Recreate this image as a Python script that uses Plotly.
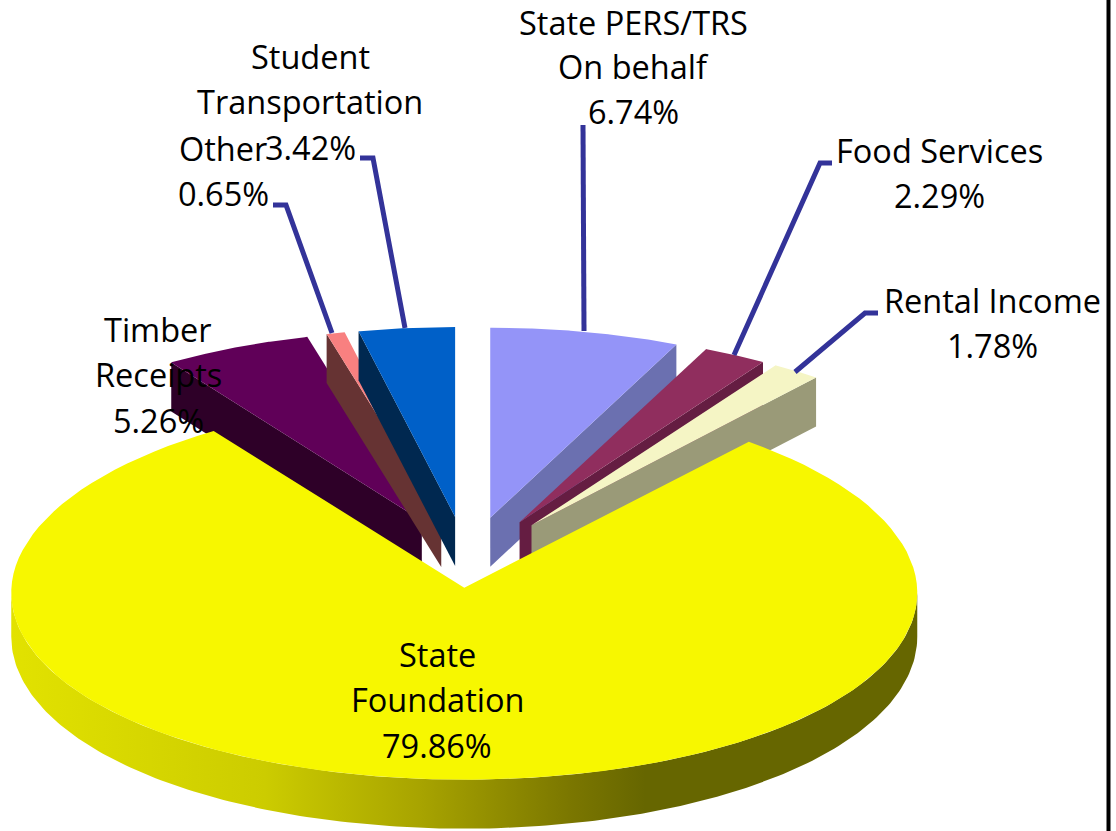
import numpy as np
import plotly.graph_objects as go

# ---- data, clockwise from 12 o'clock ----
slice_names = ["State PERS/TRS On behalf", "Food Services", "Rental Income", "State Foundation",
               "Timber Receipts", "Other", "Student Transportation"]
slice_values = [6.74, 2.29, 1.78, 79.86, 5.26, 0.65, 3.42]
slice_tops = ["#9494f8", "#902e5e", "#f5f5c5", "#f7f700", "#600058", "#f88080", "#0060c8"]
slice_walls = ["#6b70b0", "#651d42", "#9a9a78", None, "#2e0028", "#663333", "#002850"]
slice_pull = [0.244, 0.244, 0.244, 0.13, 0.244, 0.244, 0.244]
wall_side = ["end", "end", "end", None, "start", "start", "start"]
order = [0, 1, 2, 4, 5, 6, 3]
label_lines = [["State PERS/TRS", "On behalf"], ["Food Services"], ["Rental Income"], ["State", "Foundation"],
               ["Timber", "Receipts"], ["Other"], ["Student", "Transportation"]]
label_x = [633, 939, 992, 437, 158, 223, 310]
label_y = [22, 150, 300, 654, 329, 148, 56]
label_step = [44.5, 45.7, 45.7, 45.7, 45.7, 45.7, 45.7]
leader_x = [[584, 583], [734, 820, 832], [795, 865, 878], None, None, [332, 286, 273], [405, 373, 360]]
leader_y = [[331, 125], [355, 163, 163], [372, 313, 313], None, None, [333, 205, 205], [328, 158, 158]]

CX, CY, RX, RY, DEPTH = 467, 563, 453, 190, 49
FONT = dict(family="Open Sans, Noto Sans, sans-serif", size=32.5, color="#000000")

fig = go.Figure()


def add_poly(xs, ys, color=None, gradient=None):
    kw = dict(fillgradient=gradient) if gradient else dict(fillcolor=color)
    fig.add_trace(go.Scatter(x=xs, y=ys, mode="lines", fill="toself", line=dict(width=0, color="rgba(0,0,0,0)"),
                             hoverinfo="skip", showlegend=False, **kw))


cum = np.cumsum([0] + slice_values) / sum(slice_values) * 2 * np.pi


def rim(ax, ay, t, bulge=False):
    y = ay - RY * np.cos(t)
    if bulge:  # the near half looks a little larger in the perspective view
        y = y + 5 * np.sin(t) ** 2 + 2 * np.clip(-np.cos(t), 0, 1)
    return ax + RX * np.sin(t), y


for i in order:
    a0, a1 = cum[i], cum[i + 1]
    mid = (a0 + a1) / 2
    ax = CX + slice_pull[i] * RX * np.sin(mid)
    ay = CY - slice_pull[i] * RY * np.cos(mid)
    t = np.linspace(a0, a1, 120)
    front = wall_side[i] is None
    rx, ry = rim(ax, ay, t, front)
    if not front:
        ex, ey = rim(ax, ay, a1 if wall_side[i] == "end" else a0)
        add_poly([ax, ex, ex, ax, ax], [ay, ey, ey + DEPTH, ay + DEPTH, ay], slice_walls[i])
    else:
        # outer rim wall of the big front slice, with a left-to-right shading
        tw = np.linspace(np.pi / 2, 3 * np.pi / 2, 200)
        wx, wy = rim(ax, ay, tw, True)
        dep = 44 + 5 * np.clip(-np.cos(tw), 0, 1)
        add_poly(np.r_[wx, wx[::-1]], np.r_[wy, (wy + dep)[::-1]], gradient=dict(
            type="horizontal",
            colorscale=[[0, "#e2e200"], [0.28, "#cccc00"], [0.45, "#a8a400"], [0.62, "#7a7600"], [0.7, "#666600"], [1, "#666600"]]))
    add_poly(np.r_[ax, rx, ax], np.r_[ay, ry, ay], slice_tops[i])

for lx, ly in zip(leader_x, leader_y):
    if lx:
        fig.add_trace(go.Scatter(x=lx, y=ly, mode="lines", line=dict(color="#333399", width=5),
                                 hoverinfo="skip", showlegend=False))

ann = []
for i, lines in enumerate(label_lines):
    texts = lines + [f"{slice_values[i]:.2f}%"]
    for k, s in enumerate(texts):
        ann.append(dict(x=label_x[i], y=label_y[i] + k * label_step[i], text=s, showarrow=False, xref="x", yref="y",
                        xanchor="center", yanchor="middle", font=FONT))

fig.update_layout(
    width=1116, height=831, autosize=False, margin=dict(l=0, r=0, t=0, b=0),
    paper_bgcolor="#ffffff", plot_bgcolor="#ffffff", showlegend=False, annotations=ann,
    xaxis=dict(range=[0, 1116], visible=False, fixedrange=True),
    yaxis=dict(range=[831, 0], visible=False, fixedrange=True),
    shapes=[dict(type="line", xref="paper", yref="paper", x0=1108.5 / 1116, x1=1108.5 / 1116, y0=0, y1=1,
                 line=dict(color="#000000", width=4))],
)
fig.write_html("out.html", config=dict(displayModeBar=False),
               post_script="document.body.style.margin='0';document.documentElement.style.overflow='hidden';")
